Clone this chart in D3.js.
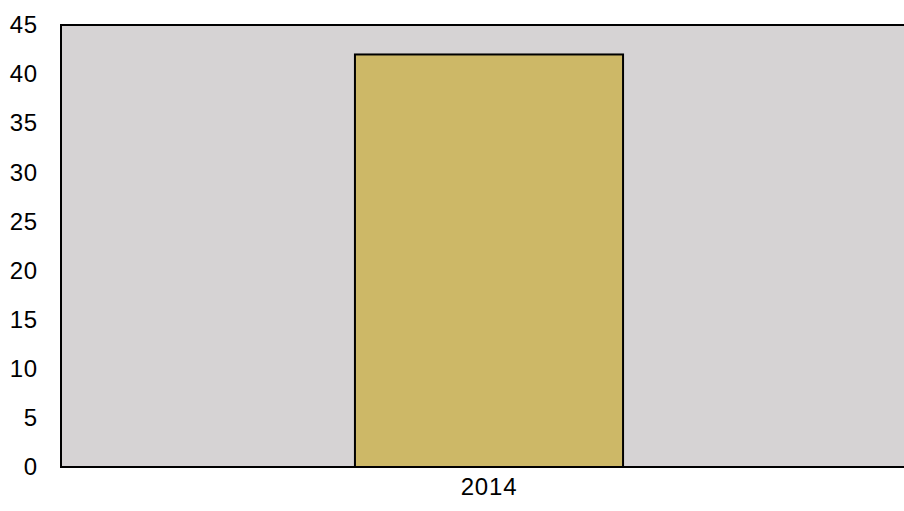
<!DOCTYPE html>
<html><head><meta charset="utf-8">
<script src="https://cdn.jsdelivr.net/npm/d3@7"></script>
<style>body{margin:0;background:#fff;}svg{display:block;}</style>
</head><body>
<script>
const categories = ["2014"];
const values = [42];
const yTicks = [0,5,10,15,20,25,30,35,40,45];

const W = 904, H = 511;
const m = {left: 61, top: 25, right: -13, bottom: 44};
const svg = d3.select("body").append("svg").attr("width", W).attr("height", H);

const x = d3.scaleBand().domain(categories).range([m.left, W - m.right]).padding(0.523);
const y = d3.scaleLinear().domain([0,45]).range([H - m.bottom, m.top]);

svg.append("rect").attr("x", m.left).attr("y", m.top)
  .attr("width", W - m.right - m.left).attr("height", y(0) - m.top)
  .attr("fill", "#d6d3d4");

svg.selectAll("rect.bar").data(values).join("rect").attr("class","bar")
  .attr("x", (d,i) => x(categories[i])).attr("y", d => y(d))
  .attr("width", x.bandwidth()).attr("height", d => y(0) - y(d))
  .attr("fill", "#cdb867").attr("stroke", "#000").attr("stroke-width", 2);

svg.append("path")
  .attr("d", `M${W - m.right},${m.top}H${m.left}V${y(0)}H${W - m.right}`)
  .attr("fill","none").attr("stroke","#000").attr("stroke-width",2);

const font = "Liberation Sans, Arial, sans-serif";
const yAxis = svg.append("g").attr("transform", `translate(${m.left},0)`)
  .call(d3.axisLeft(y).tickValues(yTicks).tickSize(0).tickPadding(23));
yAxis.select(".domain").remove();
yAxis.selectAll("text").attr("font-family", font).attr("font-size", 24).attr("fill","#000")
  .style("letter-spacing","0.8px");

const xAxis = svg.append("g").attr("transform", `translate(0,${y(0)})`)
  .call(d3.axisBottom(x).tickSize(0).tickPadding(11));
xAxis.select(".domain").remove();
xAxis.selectAll("text").attr("font-family", font).attr("font-size", 24).attr("fill","#000")
  .style("letter-spacing","0.8px");
</script>
</body></html>
